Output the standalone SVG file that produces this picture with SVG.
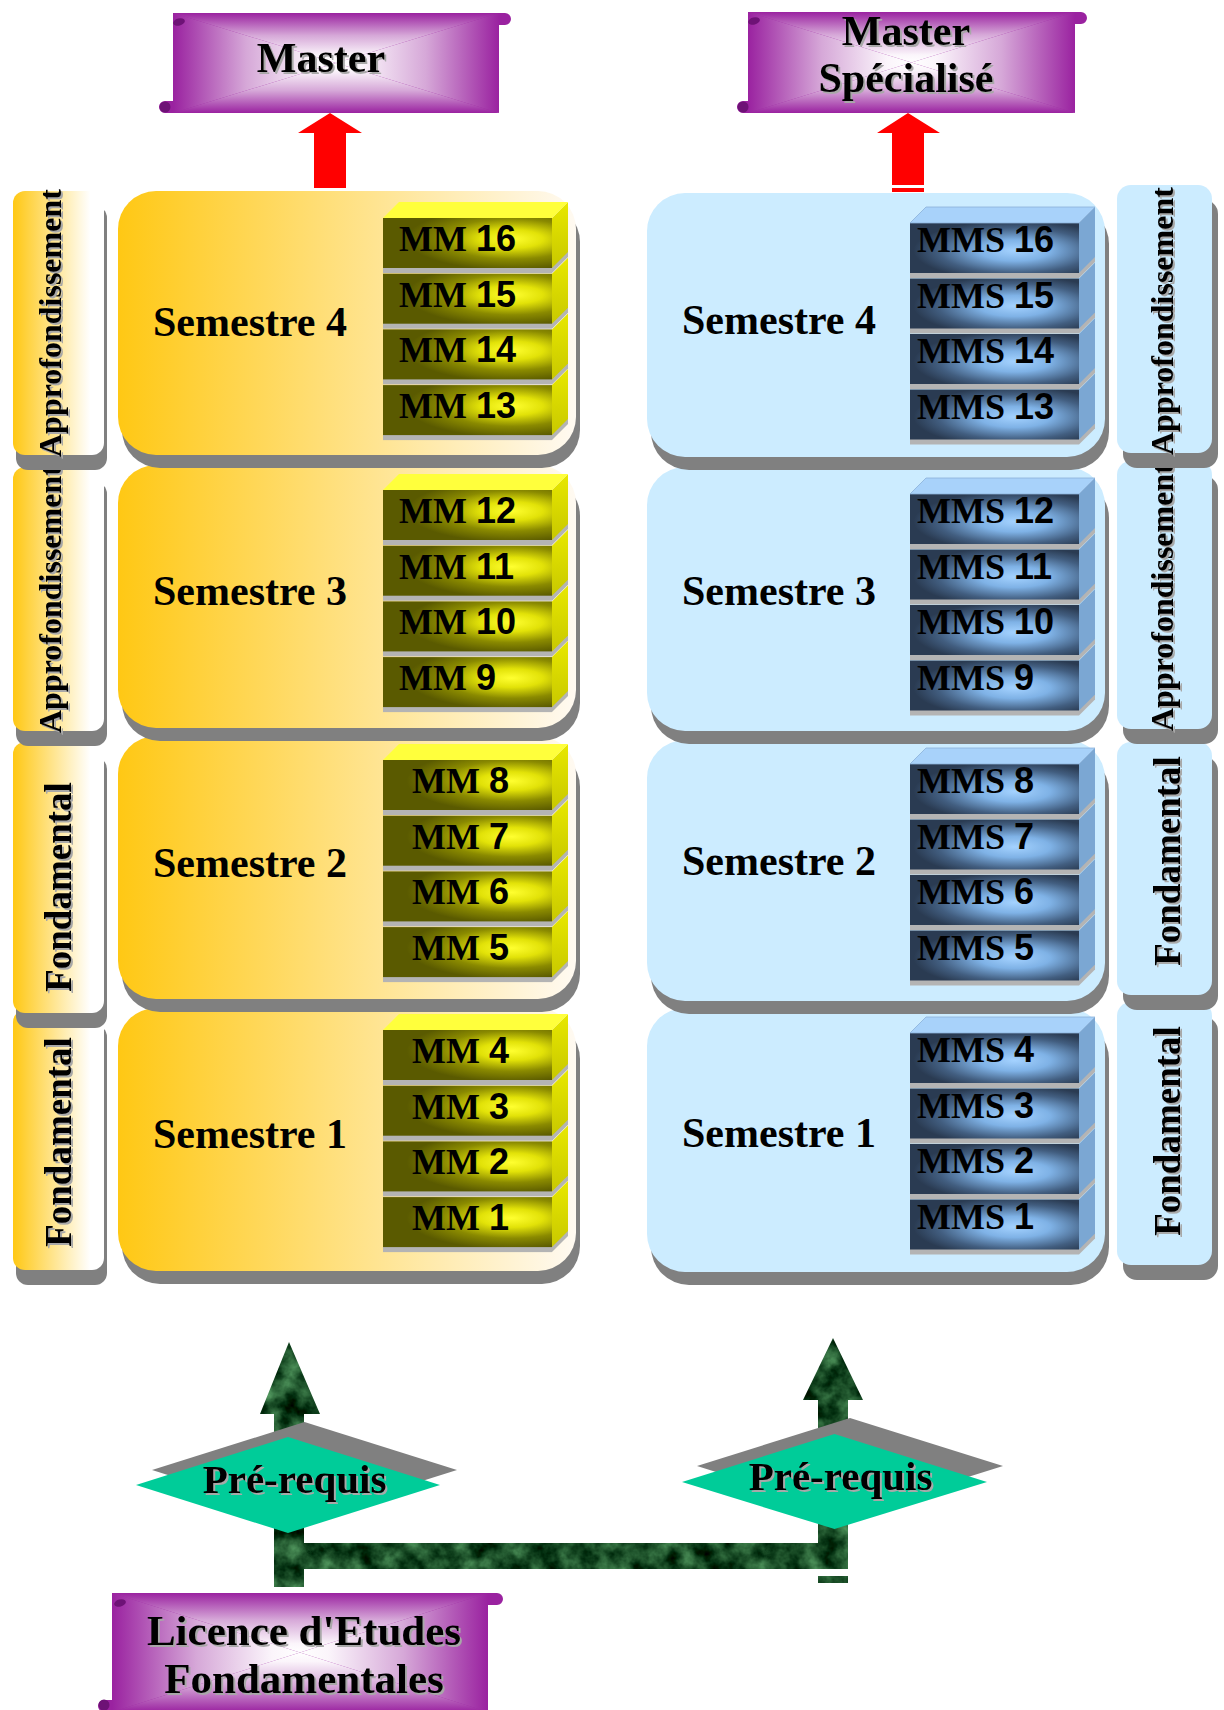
<svg xmlns="http://www.w3.org/2000/svg" width="1224" height="1710" viewBox="0 0 1224 1710">
<style>
.serif{font-family:"Liberation Serif","Times New Roman",serif;font-weight:bold;fill:#000}
.sans{font-family:"Liberation Sans",Arial,sans-serif;font-weight:bold}
.ban{font-size:42px;text-anchor:middle}
.sem{font-size:42px}
.mm{font-size:36px}
.apr{font-size:32px}
.fon{font-size:37px;text-anchor:middle}
.pre{font-size:41px;text-anchor:middle}
.sh{fill:#808080}
.ys{fill:url(#gSideY)}
.yb{fill:url(#gBoxY)}
.bl{fill:#CCECFF}
.gray{fill:#B4B4B4}
.red{fill:#FF0000}
.pur{fill:#9A22A0}
.curl{fill:#6E1276}
</style>
<defs>
<linearGradient id="gBoxY" x1="0" y1="0" x2="1" y2="0"><stop offset="0" stop-color="#FFC814"/><stop offset="1" stop-color="#FFFAF2"/></linearGradient>
<linearGradient id="gSideY" x1="0" y1="0" x2="1" y2="0"><stop offset="0" stop-color="#FFC814"/><stop offset="0.85" stop-color="#FFFFFF"/></linearGradient>
<linearGradient id="gT" x1="0" y1="0" x2="0" y2="1"><stop offset="0" stop-color="#9A22A0"/><stop offset="0.45" stop-color="#D6A8D8"/><stop offset="0.85" stop-color="#FBF5FB"/><stop offset="1" stop-color="#FFFFFF"/></linearGradient>
<linearGradient id="gB" x1="0" y1="1" x2="0" y2="0"><stop offset="0" stop-color="#9A22A0"/><stop offset="0.45" stop-color="#D6A8D8"/><stop offset="0.85" stop-color="#FBF5FB"/><stop offset="1" stop-color="#FFFFFF"/></linearGradient>
<linearGradient id="gL" x1="0" y1="0" x2="1" y2="0"><stop offset="0" stop-color="#9A22A0"/><stop offset="0.45" stop-color="#D6A8D8"/><stop offset="0.85" stop-color="#FBF5FB"/><stop offset="1" stop-color="#FFFFFF"/></linearGradient>
<linearGradient id="gR" x1="1" y1="0" x2="0" y2="0"><stop offset="0" stop-color="#9A22A0"/><stop offset="0.45" stop-color="#D6A8D8"/><stop offset="0.85" stop-color="#FBF5FB"/><stop offset="1" stop-color="#FFFFFF"/></linearGradient>
<radialGradient id="gMM" cx="0.76" cy="0.42" r="0.62" fx="0.76" fy="0.42"><stop offset="0" stop-color="#FFFF30"/><stop offset="0.3" stop-color="#E2E208"/><stop offset="0.65" stop-color="#8A8A00"/><stop offset="1" stop-color="#5A5A00"/></radialGradient>
<linearGradient id="gMMside" x1="0" y1="0" x2="0" y2="1"><stop offset="0" stop-color="#E8E800"/><stop offset="1" stop-color="#C8C800"/></linearGradient>
<radialGradient id="gMMS" cx="0.62" cy="0.55" r="0.6" fx="0.62" fy="0.55"><stop offset="0" stop-color="#A4D2FF"/><stop offset="0.35" stop-color="#7FB2E6"/><stop offset="0.75" stop-color="#425E80"/><stop offset="1" stop-color="#2A3B52"/></radialGradient>
<filter id="ts" x="-5%" y="-5%" width="115%" height="120%" color-interpolation-filters="sRGB">
<feOffset in="SourceAlpha" dx="2" dy="2" result="o"/>
<feFlood flood-color="#A8A8A8"/>
<feComposite in2="o" operator="in" result="s"/>
<feMerge><feMergeNode in="s"/><feMergeNode in="SourceGraphic"/></feMerge>
</filter>
<filter id="marble" filterUnits="userSpaceOnUse" x="250" y="1330" width="630" height="260" color-interpolation-filters="sRGB">
<feTurbulence type="fractalNoise" baseFrequency="0.05" numOctaves="4" seed="7"/>
<feColorMatrix type="matrix" values="0.6 0 0 0 -0.2  0.8 0 0 0 -0.1  0.6 0 0 0 -0.15  0 0 0 0 1"/>
<feComposite in2="SourceGraphic" operator="in"/>
</filter>
<g id="mmB">
<rect class="gray" x="0" y="5" width="169" height="50"/>
<polygon class="gray" points="169,5 185,-11 185,39 169,55"/>
<rect x="0" y="0" width="169" height="50" fill="url(#gMM)"/>
<polygon points="169,0 185,-16 185,34 169,50" fill="url(#gMMside)"/>
</g>
<polygon id="mmT" points="0,0 16,-16 185,-16 169,0" fill="#FFFF3C"/>
<g id="mmsB">
<rect class="gray" x="0" y="5" width="169" height="50"/>
<polygon class="gray" points="169,5 185,-11 185,39 169,55"/>
<rect x="0" y="0" width="169" height="50" fill="url(#gMMS)"/>
<polygon points="169,0 185,-16 185,34 169,50" fill="#7BA7D3"/>
</g>
<polygon id="mmsT" points="0,0 16,-16 185,-16 169,0" fill="#A8D2FA" stroke="#8AB0D8" stroke-width="0.8"/>
</defs>

<g id="banner-master">
<path class="pur" d="M173,13 H505 A6,6 0 0 1 505,25 H499 V110 Q499,113 496,113 H165 A6,6 0 0 1 165,101 H173 Z"/>
<polygon points="173,13 499,13 336,63" fill="url(#gT)"/>
<polygon points="173,113 499,113 336,63" fill="url(#gB)"/>
<polygon points="173,13 336,63 173,113" fill="url(#gL)"/>
<polygon points="499,13 336,63 499,113" fill="url(#gR)"/>
<ellipse class="curl" cx="179" cy="22" rx="6" ry="3.5" transform="rotate(-15 179 22)"/>
<circle class="curl" cx="165" cy="107" r="5.5"/>
<g filter="url(#ts)"><text class="serif ban" x="321" y="72">Master</text></g>
</g>

<g id="banner-master-specialise">
<path class="pur" d="M748,12 H1081 A6,6 0 0 1 1081,24 H1075 V110 Q1075,113 1072,113 H743 A6,6 0 0 1 743,101 H748 Z"/>
<polygon points="748,12 1075,12 911.5,62.5" fill="url(#gT)"/>
<polygon points="748,113 1075,113 911.5,62.5" fill="url(#gB)"/>
<polygon points="748,12 911.5,62.5 748,113" fill="url(#gL)"/>
<polygon points="1075,12 911.5,62.5 1075,113" fill="url(#gR)"/>
<ellipse class="curl" cx="754" cy="21" rx="6" ry="3.5" transform="rotate(-15 754 21)"/>
<circle class="curl" cx="743" cy="107" r="5.5"/>
<g filter="url(#ts)">
<text class="serif ban" x="906" y="45">Master</text>
<text class="serif ban" x="906" y="92">Spécialisé</text>
</g>
</g>

<g id="connectors">
<polygon class="red" points="330,113 362,133 346,133 346,188 314,188 314,133 298,133"/>
<polygon class="red" points="908,113 940,133 924,133 924,185 892,185 892,133 877,133"/>
<rect class="red" x="892" y="188" width="32" height="4"/>
<g filter="url(#marble)">
<path fill="#0F4A2A" d="M289,1342 L320,1414 H304 V1543 H818 V1400 H803 L833,1338 L863,1400 H848 V1569 H304 V1587 H274 V1414 H260 Z"/>
<rect fill="#0F4A2A" x="818" y="1576" width="30" height="7"/>
</g>
</g>

<g id="side-l4">
<rect class="sh" x="16" y="1025" width="91" height="260" rx="12"/>
<rect class="ys" x="13" y="1010" width="91" height="260" rx="12"/>
<g filter="url(#ts)"><text class="serif fon" transform="translate(71,1142) rotate(-90)">Fondamental</text></g>
</g>
<g id="side-l3">
<rect class="sh" x="16" y="757" width="91" height="271" rx="12"/>
<rect class="ys" x="13" y="742" width="91" height="271" rx="12"/>
<g filter="url(#ts)"><text class="serif fon" transform="translate(71,887) rotate(-90)">Fondamental</text></g>
</g>
<g id="side-l2">
<rect class="sh" x="16" y="482" width="91" height="264" rx="12"/>
<rect class="ys" x="13" y="467" width="91" height="264" rx="12"/>
<g filter="url(#ts)"><text class="serif apr" transform="translate(61,733) rotate(-90)">Approfondissement</text></g>
</g>
<g id="side-l1">
<rect class="sh" x="16" y="206" width="91" height="264" rx="12"/>
<rect class="ys" x="13" y="191" width="91" height="264" rx="12"/>
<g filter="url(#ts)"><text class="serif apr" transform="translate(61,457) rotate(-90)">Approfondissement</text></g>
</g>

<g id="side-r4">
<rect class="sh" x="1123" y="1017" width="95" height="263" rx="14"/>
<rect class="bl" x="1117" y="1002" width="95" height="263" rx="14"/>
<g filter="url(#ts)"><text class="serif fon" transform="translate(1180,1131) rotate(-90)">Fondamental</text></g>
</g>
<g id="side-r3">
<rect class="sh" x="1123" y="757" width="95" height="253" rx="14"/>
<rect class="bl" x="1117" y="742" width="95" height="253" rx="14"/>
<g filter="url(#ts)"><text class="serif fon" transform="translate(1180,861) rotate(-90)">Fondamental</text></g>
</g>
<g id="side-r2">
<rect class="sh" x="1123" y="476" width="95" height="268" rx="14"/>
<rect class="bl" x="1117" y="461" width="95" height="268" rx="14"/>
<g filter="url(#ts)"><text class="serif apr" transform="translate(1173,731) rotate(-90)">Approfondissement</text></g>
</g>
<g id="side-r1">
<rect class="sh" x="1123" y="200" width="95" height="268" rx="14"/>
<rect class="bl" x="1117" y="185" width="95" height="268" rx="14"/>
<g filter="url(#ts)"><text class="serif apr" transform="translate(1173,455) rotate(-90)">Approfondissement</text></g>
</g>

<g id="sem-l1">
<rect class="sh" x="122" y="1021" width="458" height="263" rx="38"/>
<rect class="yb" x="118" y="1008" width="458" height="263" rx="38"/>
<text class="serif sem" x="153" y="1148">Semestre 1</text>
<g id="mm4"><use href="#mmB" x="383" y="1030"/><use href="#mmT" x="383" y="1030"/><text class="serif mm" x="412" y="1063">MM <tspan class="sans">4</tspan></text></g>
<g id="mm3"><use href="#mmB" x="383" y="1085.7"/><text class="serif mm" x="412" y="1118.7">MM <tspan class="sans">3</tspan></text></g>
<g id="mm2"><use href="#mmB" x="383" y="1141.4"/><text class="serif mm" x="412" y="1174.4">MM <tspan class="sans">2</tspan></text></g>
<g id="mm1"><use href="#mmB" x="383" y="1197.1"/><text class="serif mm" x="412" y="1230.1">MM <tspan class="sans">1</tspan></text></g>
</g>
<g id="sem-l2">
<rect class="sh" x="122" y="749" width="458" height="263" rx="38"/>
<rect class="yb" x="118" y="736" width="458" height="263" rx="38"/>
<text class="serif sem" x="153" y="877">Semestre 2</text>
<g id="mm8"><use href="#mmB" x="383" y="760"/><use href="#mmT" x="383" y="760"/><text class="serif mm" x="412" y="793">MM <tspan class="sans">8</tspan></text></g>
<g id="mm7"><use href="#mmB" x="383" y="815.7"/><text class="serif mm" x="412" y="848.7">MM <tspan class="sans">7</tspan></text></g>
<g id="mm6"><use href="#mmB" x="383" y="871.4"/><text class="serif mm" x="412" y="904.4">MM <tspan class="sans">6</tspan></text></g>
<g id="mm5"><use href="#mmB" x="383" y="927.1"/><text class="serif mm" x="412" y="960.1">MM <tspan class="sans">5</tspan></text></g>
</g>
<g id="sem-l3">
<rect class="sh" x="122" y="478" width="458" height="263" rx="38"/>
<rect class="yb" x="118" y="465" width="458" height="263" rx="38"/>
<text class="serif sem" x="153" y="605">Semestre 3</text>
<g id="mm12"><use href="#mmB" x="383" y="490"/><use href="#mmT" x="383" y="490"/><text class="serif mm" x="399" y="523">MM <tspan class="sans">12</tspan></text></g>
<g id="mm11"><use href="#mmB" x="383" y="545.7"/><text class="serif mm" x="399" y="578.7">MM <tspan class="sans">11</tspan></text></g>
<g id="mm10"><use href="#mmB" x="383" y="601.4"/><text class="serif mm" x="399" y="634.4">MM <tspan class="sans">10</tspan></text></g>
<g id="mm9"><use href="#mmB" x="383" y="657.1"/><text class="serif mm" x="399" y="690.1">MM <tspan class="sans">9</tspan></text></g>
</g>
<g id="sem-l4">
<rect class="sh" x="122" y="204" width="458" height="264" rx="38"/>
<rect class="yb" x="118" y="191" width="458" height="264" rx="38"/>
<text class="serif sem" x="153" y="336">Semestre 4</text>
<g id="mm16"><use href="#mmB" x="383" y="218"/><use href="#mmT" x="383" y="218"/><text class="serif mm" x="399" y="251">MM <tspan class="sans">16</tspan></text></g>
<g id="mm15"><use href="#mmB" x="383" y="273.7"/><text class="serif mm" x="399" y="306.7">MM <tspan class="sans">15</tspan></text></g>
<g id="mm14"><use href="#mmB" x="383" y="329.4"/><text class="serif mm" x="399" y="362.4">MM <tspan class="sans">14</tspan></text></g>
<g id="mm13"><use href="#mmB" x="383" y="385.1"/><text class="serif mm" x="399" y="418.1">MM <tspan class="sans">13</tspan></text></g>
</g>

<g id="sem-r1">
<rect class="sh" x="651" y="1021" width="458" height="264" rx="38"/>
<rect class="bl" x="647" y="1008" width="458" height="264" rx="38"/>
<text class="serif sem" x="682" y="1147">Semestre 1</text>
<g id="mms4"><use href="#mmsB" x="910" y="1033"/><use href="#mmsT" x="910" y="1033"/><text class="serif mm" x="917" y="1062">MMS <tspan class="sans">4</tspan></text></g>
<g id="mms3"><use href="#mmsB" x="910" y="1088.5"/><text class="serif mm" x="917" y="1117.5">MMS <tspan class="sans">3</tspan></text></g>
<g id="mms2"><use href="#mmsB" x="910" y="1144"/><text class="serif mm" x="917" y="1173">MMS <tspan class="sans">2</tspan></text></g>
<g id="mms1"><use href="#mmsB" x="910" y="1199.5"/><text class="serif mm" x="917" y="1228.5">MMS <tspan class="sans">1</tspan></text></g>
</g>
<g id="sem-r2">
<rect class="sh" x="651" y="753" width="458" height="261" rx="38"/>
<rect class="bl" x="647" y="740" width="458" height="261" rx="38"/>
<text class="serif sem" x="682" y="875">Semestre 2</text>
<g id="mms8"><use href="#mmsB" x="910" y="764"/><use href="#mmsT" x="910" y="764"/><text class="serif mm" x="917" y="793">MMS <tspan class="sans">8</tspan></text></g>
<g id="mms7"><use href="#mmsB" x="910" y="819.5"/><text class="serif mm" x="917" y="848.5">MMS <tspan class="sans">7</tspan></text></g>
<g id="mms6"><use href="#mmsB" x="910" y="875"/><text class="serif mm" x="917" y="904">MMS <tspan class="sans">6</tspan></text></g>
<g id="mms5"><use href="#mmsB" x="910" y="930.5"/><text class="serif mm" x="917" y="959.5">MMS <tspan class="sans">5</tspan></text></g>
</g>
<g id="sem-r3">
<rect class="sh" x="651" y="480" width="458" height="264" rx="38"/>
<rect class="bl" x="647" y="467" width="458" height="264" rx="38"/>
<text class="serif sem" x="682" y="605">Semestre 3</text>
<g id="mms12"><use href="#mmsB" x="910" y="494"/><use href="#mmsT" x="910" y="494"/><text class="serif mm" x="917" y="523">MMS <tspan class="sans">12</tspan></text></g>
<g id="mms11"><use href="#mmsB" x="910" y="549.5"/><text class="serif mm" x="917" y="578.5">MMS <tspan class="sans">11</tspan></text></g>
<g id="mms10"><use href="#mmsB" x="910" y="605"/><text class="serif mm" x="917" y="634">MMS <tspan class="sans">10</tspan></text></g>
<g id="mms9"><use href="#mmsB" x="910" y="660.5"/><text class="serif mm" x="917" y="689.5">MMS <tspan class="sans">9</tspan></text></g>
</g>
<g id="sem-r4">
<rect class="sh" x="651" y="206" width="458" height="264" rx="38"/>
<rect class="bl" x="647" y="193" width="458" height="264" rx="38"/>
<text class="serif sem" x="682" y="334">Semestre 4</text>
<g id="mms16"><use href="#mmsB" x="910" y="223"/><use href="#mmsT" x="910" y="223"/><text class="serif mm" x="917" y="252">MMS <tspan class="sans">16</tspan></text></g>
<g id="mms15"><use href="#mmsB" x="910" y="278.5"/><text class="serif mm" x="917" y="307.5">MMS <tspan class="sans">15</tspan></text></g>
<g id="mms14"><use href="#mmsB" x="910" y="334"/><text class="serif mm" x="917" y="363">MMS <tspan class="sans">14</tspan></text></g>
<g id="mms13"><use href="#mmsB" x="910" y="389.5"/><text class="serif mm" x="917" y="418.5">MMS <tspan class="sans">13</tspan></text></g>
</g>

<g id="prereq-left">
<polygon class="sh" points="304.5,1422 457,1470 304.5,1518 152,1470"/>
<polygon fill="#00CC99" points="288,1437 440,1485 288,1533 136,1485"/>
<g filter="url(#ts)"><text class="serif pre" x="294.5" y="1493">Pré-requis</text></g>
</g>
<g id="prereq-right">
<polygon class="sh" points="850,1418 1003,1466 850,1514 697,1466"/>
<polygon fill="#00CC99" points="834.5,1434 987,1482 834.5,1529 682,1482"/>
<g filter="url(#ts)"><text class="serif pre" x="840.5" y="1490">Pré-requis</text></g>
</g>

<g id="banner-licence">
<path class="pur" d="M112,1593 H497 A6,6 0 0 1 497,1605 H488 V1712 H104 A6,6 0 0 1 104,1700 H112 Z"/>
<polygon points="112,1593 488,1593 300,1652.5" fill="url(#gT)"/>
<polygon points="112,1712 488,1712 300,1652.5" fill="url(#gB)"/>
<polygon points="112,1593 300,1652.5 112,1712" fill="url(#gL)"/>
<polygon points="488,1593 300,1652.5 488,1712" fill="url(#gR)"/>
<ellipse class="curl" cx="120" cy="1603" rx="6" ry="3.5" transform="rotate(-15 120 1603)"/>
<circle class="curl" cx="104" cy="1705" r="5.5"/>
<g filter="url(#ts)">
<text class="serif ban" style="font-size:43px" x="304" y="1645">Licence d'Etudes</text>
<text class="serif ban" style="font-size:43px" x="304" y="1693">Fondamentales</text>
</g>
</g>
</svg>
